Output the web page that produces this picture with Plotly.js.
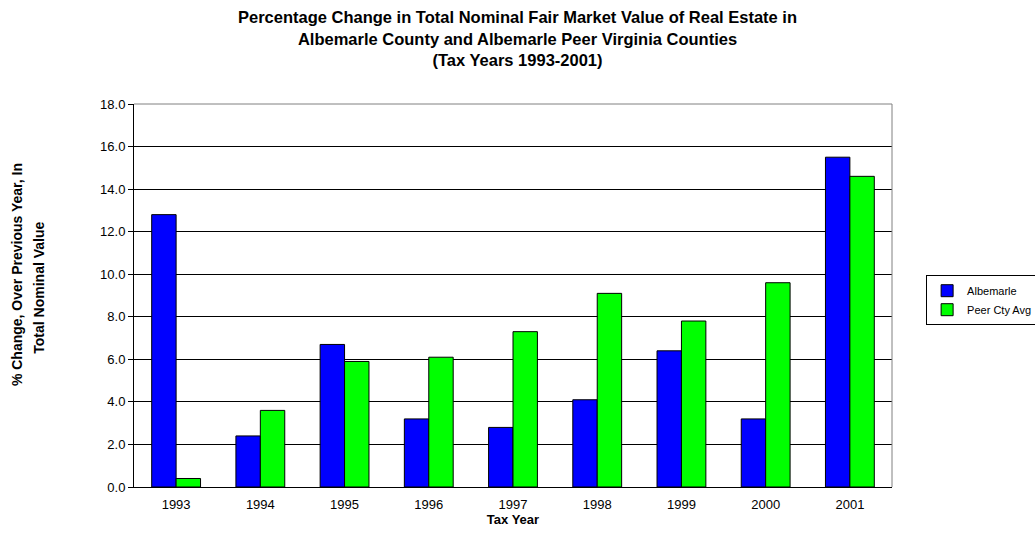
<!DOCTYPE html>
<html>
<head>
<meta charset="utf-8">
<script src="https://cdn.plot.ly/plotly-3.0.1.min.js"></script>
<style>html,body{margin:0;padding:0;background:#fff;}#chart{width:1035px;height:555px;}</style>
</head>
<body>
<div id="chart"></div>
<script>
const years = ['1993','1994','1995','1996','1997','1998','1999','2000','2001'];
const albemarle = [12.8, 2.4, 6.7, 3.2, 2.8, 4.1, 6.4, 3.2, 15.5];
const peerAvg = [0.4, 3.6, 5.9, 6.1, 7.3, 9.1, 7.8, 9.6, 14.6];
const seriesNames = ['Albemarle', 'Peer Cty Avg'];
const yTickVals = [0, 2, 4, 6, 8, 10, 12, 14, 16, 18];

const font = 'Liberation Sans, Arial, sans-serif';

const traces = [
  {type:'bar', x: years, y: albemarle, name: seriesNames[0],
   marker:{color:'#0000FF', line:{color:'#000000', width:1}}},
  {type:'bar', x: years, y: peerAvg, name: seriesNames[1],
   marker:{color:'#00FF00', line:{color:'#000000', width:1}}}
];

const layout = {
  width: 1035, height: 555,
  paper_bgcolor:'#ffffff', plot_bgcolor:'#ffffff',
  margin:{l:134, r:143, t:104, b:68, pad:0, autoexpand:false},
  font:{family: font, size:12, color:'#000'},
  barmode:'group', bargap:0.42, bargroupgap:0,
  showlegend:true,
  title:{
    text:'Percentage Change in Total Nominal Fair Market Value of Real Estate in<br>Albemarle County and Albemarle Peer Virginia Counties<br>(Tax Years 1993-2001)',
    font:{family:font, size:16.5, color:'#000', weight:'bold'},
    x:0.5, xanchor:'center', y:0.958, yanchor:'top'
  },
  xaxis:{
    type:'category',
    showline:true, linecolor:'#000', linewidth:1,
    ticks:'outside', ticklen:5, tickcolor:'rgba(0,0,0,0)',
    showgrid:false, zeroline:false,
    tickfont:{family:font, size:13, color:'#000'},
    title:{text:'<b>Tax Year</b>', font:{family:font, size:13, color:'#000'}, standoff:0}
  },
  yaxis:{
    range:[0,18], tickvals: yTickVals, tickformat:'.1f',
    showline:true, linecolor:'#000', linewidth:1,
    ticks:'outside', ticklen:5, tickcolor:'#000',
    showgrid:true, gridcolor:'#000', gridwidth:1, zeroline:false,
    tickfont:{family:font, size:13, color:'#000'}
  },
  legend:{
    x:1.045, xanchor:'left', y:0.553, yanchor:'top',
    bgcolor:'#fff', bordercolor:'#000', borderwidth:1,
    font:{family:font, size:11, color:'#000'},
    tracegroupgap:0, itemwidth:30
  },
  annotations:[
    {text:'<b>% Change, Over Previous Year, In</b>',
     xref:'paper', yref:'paper', x:-0.154, y:0.554, xanchor:'center', yanchor:'middle',
     textangle:-90, showarrow:false, font:{family:font, size:14, color:'#000'}},
    {text:'<b>Total Nominal Value</b>',
     xref:'paper', yref:'paper', x:-0.1255, y:0.52, xanchor:'center', yanchor:'middle',
     textangle:-90, showarrow:false, font:{family:font, size:14, color:'#000'}}
  ],
  shapes:[
    {type:'line', xref:'paper', yref:'paper', x0:1, x1:1, y0:0, y1:1, line:{color:'#808080', width:1}},
    {type:'line', xref:'paper', yref:'paper', x0:0, x1:1, y0:1, y1:1, line:{color:'#808080', width:1}}
  ]
};

Plotly.newPlot('chart', traces, layout, {displayModeBar:false, staticPlot:true});
</script>
</body>
</html>
